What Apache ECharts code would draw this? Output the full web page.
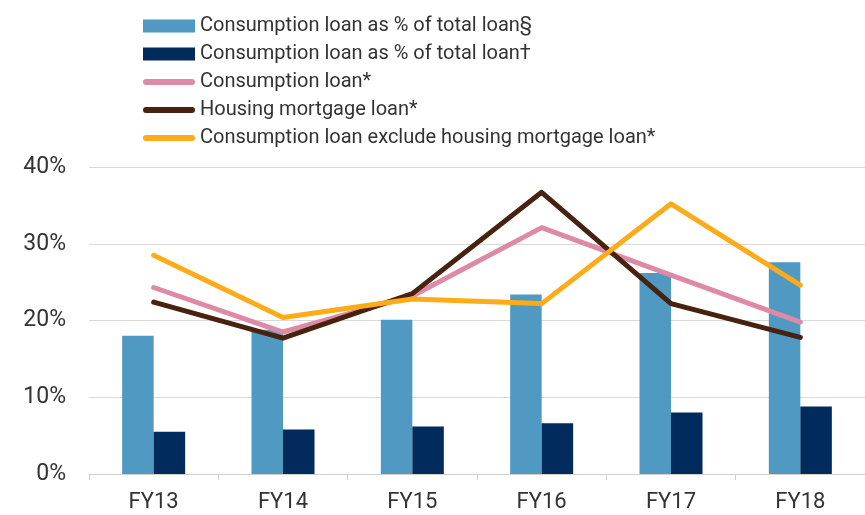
<!DOCTYPE html>
<html>
<head>
<meta charset="utf-8">
<script src="https://cdn.jsdelivr.net/npm/echarts@6/dist/echarts.min.js"></script>
<style>
  html, body { margin: 0; padding: 0; background: #fff; }
  #chart { width: 865px; height: 515px; }
</style>
</head>
<body>
<div id="chart"></div>
<script>
// ===== 数据 =====
const categories = ['FY13', 'FY14', 'FY15', 'FY16', 'FY17', 'FY18']
const consumptionShareA = [18.0, 18.8, 20.1, 23.4, 26.2, 27.6]   // §
const consumptionShareB = [5.5, 5.8, 6.2, 6.6, 8.0, 8.8]         // †
const consumptionLoan = [24.3, 18.5, 23.2, 32.1, 25.9, 19.8]
const housingLoan = [22.4, 17.7, 23.5, 36.7, 22.2, 17.8]
const consumptionExHousing = [28.5, 20.4, 22.8, 22.2, 35.2, 24.6]
const yTicks = [0, 10, 20, 30, 40]

const FONT = 'Roboto, "Noto Sans", sans-serif'
// 图例里线条样式的图标（圆头粗线）
const LINE_ICON = 'path://M3,0 H49 A3,3 0 0 1 49,6 H3 A3,3 0 0 1 3,0 Z'

function lineSeries(name, data, color) {
  return {
    name,
    type: 'line',
    data,
    symbol: 'none',
    lineStyle: { color, width: 5, cap: 'round', join: 'round' },
    itemStyle: { color },
    z: 3
  }
}

const chart = echarts.init(document.getElementById('chart'))

chart.setOption({
  animation: false,
  grid: { left: 89, right: -9, top: 167, bottom: 41 },
  legend: {
    orient: 'vertical',
    left: 138,
    top: 9,
    itemWidth: 52,
    itemHeight: 13,
    itemGap: 4,
    textStyle: { fontFamily: FONT, fontSize: 20, color: '#333', lineHeight: 24 },
    data: [
      { name: 'Consumption loan as % of total loan§', icon: 'rect' },
      { name: 'Consumption loan as % of total loan†', icon: 'rect' },
      { name: 'Consumption loan*', icon: LINE_ICON },
      { name: 'Housing mortgage loan*', icon: LINE_ICON },
      { name: 'Consumption loan exclude housing mortgage loan*', icon: LINE_ICON }
    ]
  },
  xAxis: {
    type: 'category',
    data: categories,
    axisLine: { lineStyle: { color: '#d0d0d0', width: 1 } },
    axisTick: { show: true, length: 6, lineStyle: { color: '#d0d0d0' } },
    axisLabel: { fontFamily: FONT, fontSize: 22, color: '#333', margin: 17 }
  },
  yAxis: {
    type: 'value',
    min: yTicks[0],
    max: yTicks[yTicks.length - 1],
    interval: 10,
    axisLine: { show: false },
    axisTick: { show: false },
    axisLabel: { fontFamily: FONT, fontSize: 23, color: '#333', margin: 23, formatter: '{value}%' },
    splitLine: { lineStyle: { color: '#d9d9d9', width: 1 } }
  },
  series: [
    {
      name: 'Consumption loan as % of total loan§',
      type: 'bar',
      data: consumptionShareA,
      barWidth: 31.5,
      barGap: '0%',
      itemStyle: { color: '#4f99c2' }
    },
    {
      name: 'Consumption loan as % of total loan†',
      type: 'bar',
      data: consumptionShareB,
      barWidth: 31.5,
      barGap: '0%',
      itemStyle: { color: '#002b5c' }
    },
    lineSeries('Consumption loan*', consumptionLoan, '#de8aa6'),
    lineSeries('Housing mortgage loan*', housingLoan, '#47220f'),
    lineSeries('Consumption loan exclude housing mortgage loan*', consumptionExHousing, '#fdab18')
  ]
})
</script>
</body>
</html>
